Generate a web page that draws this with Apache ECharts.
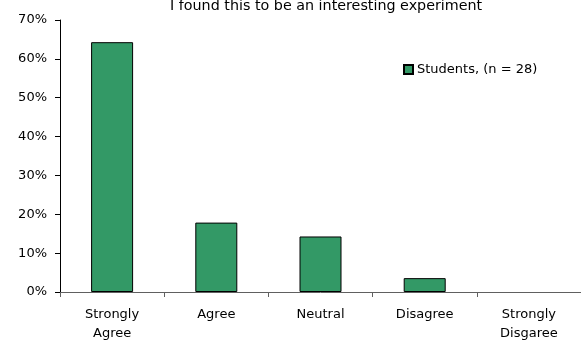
<!DOCTYPE html>
<html>
<head>
<meta charset="utf-8">
<script src="https://cdn.jsdelivr.net/npm/echarts@6/dist/echarts.min.js"></script>
<style>
html,body{margin:0;padding:0;background:#fff;}
#c{width:581px;height:345px;}
</style>
</head>
<body>
<div id="c"></div>
<script>
var titleText = 'I found this to be an interesting experiment';
var categories = ['Strongly\nAgree', 'Agree', 'Neutral', 'Disagree', 'Strongly\nDisgaree'];
var seriesName = 'Students, (n = 28)';
var studentValues = [64.29, 17.86, 14.29, 3.57, 0];
var yTicks = {min: 0, max: 70, interval: 10};

var FONT = 'DejaVu Sans';
var barData = studentValues.map(function (v) {
  return v === 0 ? {value: v, itemStyle: {borderWidth: 0}} : v;
});
var chart = echarts.init(document.getElementById('c'), null, {renderer: 'canvas'});
chart.setOption({
  animation: false,
  backgroundColor: '#ffffff',
  title: {
    text: titleText,
    left: 165,
    top: -6,
    textStyle: {fontFamily: FONT, fontSize: 14.3, fontWeight: 'normal', color: '#000'}
  },
  legend: {
    left: 403,
    top: 63,
    padding: 0,
    itemWidth: 9,
    itemHeight: 9,
    itemGap: 5,
    icon: 'rect',
    textStyle: {fontFamily: FONT, fontSize: 13, color: '#000', padding: [0, 0, 0, -1]},
    data: [seriesName]
  },
  grid: {left: 60, right: -1, top: 20, bottom: 53, containLabel: false},
  xAxis: {
    type: 'category',
    data: categories,
    boundaryGap: true,
    axisLine: {lineStyle: {color: '#606060', width: 1}},
    axisTick: {show: true, length: 5, lineStyle: {color: '#606060'}},
    axisLabel: {fontFamily: FONT, fontSize: 13, color: '#000', margin: 13, lineHeight: 19, interval: 0}
  },
  yAxis: {
    type: 'value',
    min: yTicks.min,
    max: yTicks.max,
    interval: yTicks.interval,
    axisLine: {show: true, lineStyle: {color: '#000', width: 1}},
    axisTick: {show: true, length: 5, lineStyle: {color: '#000'}},
    splitLine: {show: false},
    axisLabel: {fontFamily: FONT, fontSize: 13, color: '#000', margin: 13, formatter: '{value}%'}
  },
  series: [{
    name: seriesName,
    type: 'bar',
    data: barData,
    barWidth: 42,
    itemStyle: {color: '#339966', borderColor: '#000', borderWidth: 1}
  }]
});
</script>
</body>
</html>
